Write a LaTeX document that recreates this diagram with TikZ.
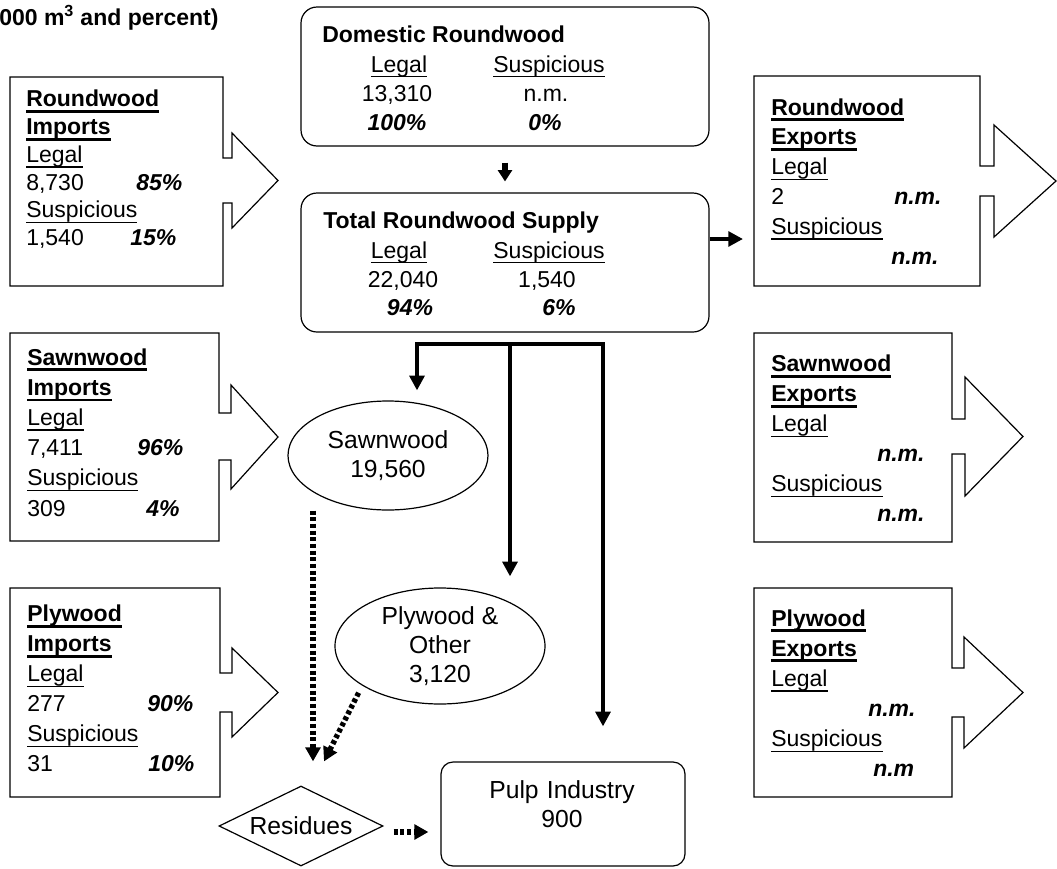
\documentclass[tikz,border=0pt]{standalone}
\usepackage{fontspec}
\setmainfont{Liberation Sans}
\usetikzlibrary{shapes.geometric,arrows.meta}
\newcommand{\myul}[1]{\setbox0\hbox{#1}\leavevmode\rlap{\rule[-4pt]{\wd0}{0.95pt}}\box0}
\newcommand{\myulb}[1]{\setbox0\hbox{\textbf{#1}}\leavevmode\rlap{\rule[-4.6pt]{\wd0}{2.1pt}}\box0}
\newcommand{\pct}[1]{\textbf{\textit{#1}}}
\newcommand{\tabrow}[3]{\makebox[#1][l]{#2}\pct{#3}}
\begin{document}
\begin{tikzpicture}[x=0.75pt,y=-0.75pt,
  boxline/.style={line width=0.9pt, line join=miter},
  btxt/.style={inner sep=0pt, anchor=base west, align=left, text width=150pt, font={\fontsize{17.25pt}{#1}\selectfont}},
  cell/.style={inner sep=0pt, anchor=base, font={\fontsize{17.25pt}{20pt}\selectfont}},
  ctitle/.style={inner sep=0pt, anchor=base west, font={\fontsize{17.25pt}{20pt}\selectfont\bfseries}},
  stxt/.style={inner sep=0pt, anchor=base, align=center, text width=160pt, font={\fontsize{18.5pt}{22pt}\selectfont}},
  rbox/.style={draw, line width=0.9pt, rounded corners=12pt, inner sep=0pt},
  oval/.style={draw, ellipse, line width=0.9pt, inner sep=0pt, align=center, font={\fontsize{18.5pt}{22pt}\selectfont}},
  flow/.style={line width=3.6pt, -{Triangle[width=11pt,length=11pt]}},
  resid/.style={line width=4pt, dash pattern=on 3pt off 2pt, -{Triangle[width=11pt,length=10.5pt]}}
]
\useasboundingbox (0,0) rectangle (1057,868);

% title (clipped)
\node[ctitle] (title) at (-1,25) {000 m\textsuperscript{3} and percent)};

% ---------- import boxes ----------
\draw[boxline] (10,77) -- (223,77) -- (223,158) -- (232,158) -- (232,133) -- (278,180.5) -- (232,228) -- (232,203) -- (223,203) -- (223,286) -- (10,286) -- cycle;
\node[btxt=20.85pt] (rwimp) at (26,106.7) {\myulb{Roundwood}\\\myulb{Imports}\\\myul{Legal}\\\tabrow{82.5pt}{8,730}{85\%}\\\myul{Suspicious}\\\tabrow{78pt}{1,540}{15\%}};

\draw[boxline] (10,333) -- (219,333) -- (219,413) -- (231,413) -- (231,385) -- (278,437) -- (231,489) -- (231,460) -- (219,460) -- (219,541) -- (10,541) -- cycle;
\node[btxt=22.65pt] (swimp) at (27,365) {\myulb{Sawnwood}\\\myulb{Imports}\\\myul{Legal}\\\tabrow{82.5pt}{7,411}{96\%}\\\myul{Suspicious}\\\tabrow{89.25pt}{309}{4\%}};

\draw[boxline] (10,588) -- (220,588) -- (220,673) -- (232,673) -- (232,648) -- (278,692.5) -- (232,737) -- (232,712) -- (220,712) -- (220,797) -- (10,797) -- cycle;
\node[btxt=22.5pt] (plimp) at (27,621.7) {\myulb{Plywood}\\\myulb{Imports}\\\myul{Legal}\\\tabrow{90pt}{277}{90\%}\\\myul{Suspicious}\\\tabrow{90.75pt}{31}{10\%}};

% ---------- export boxes ----------
\draw[boxline] (754,76) -- (980,76) -- (980,166) -- (994,166) -- (994,125) -- (1056,181) -- (994,237) -- (994,196) -- (980,196) -- (980,286) -- (754,286) -- cycle;
\node[btxt=22.35pt] (rwexp) at (771,115) {\myulb{Roundwood}\\\myulb{Exports}\\\myul{Legal}\\\tabrow{92.25pt}{2}{n.m.}\\\myul{Suspicious}\\\tabrow{90pt}{}{n.m.}};

\draw[boxline] (754,333) -- (952,333) -- (952,419) -- (965,419) -- (965,377) -- (1023,436.5) -- (965,496) -- (965,454) -- (952,454) -- (952,542) -- (754,542) -- cycle;
\node[btxt=22.5pt] (swexp) at (771,371.7) {\myulb{Sawnwood}\\\myulb{Exports}\\\myul{Legal}\\\tabrow{79.5pt}{}{n.m.}\\\myul{Suspicious}\\\tabrow{79.5pt}{}{n.m.}};

\draw[boxline] (754,588) -- (952,588) -- (952,668) -- (964,668) -- (964,637) -- (1023,692.5) -- (964,748) -- (964,717) -- (952,717) -- (952,797) -- (754,797) -- cycle;
\node[btxt=22.6pt] (plexp) at (771,626) {\myulb{Plywood}\\\myulb{Exports}\\\myul{Legal}\\\tabrow{72.75pt}{}{n.m.}\\\myul{Suspicious}\\\tabrow{76.5pt}{}{n.m}};

% ---------- central boxes ----------
\node[rbox, minimum width=306pt, minimum height=104.25pt] (dom) at (505,76.5) {};
\node[ctitle] (domt) at (322,42) {Domestic Roundwood};
\node[cell] (domL) at (399,72) {\myul{Legal}};
\node[cell] (domS) at (549,72) {\myul{Suspicious}};
\node[cell] (domLv) at (397,101.5) {13,310};
\node[cell] (domSv) at (546,101.5) {n.m.};
\node[cell] (domLp) at (397,130) {\pct{100\%}};
\node[cell] (domSp) at (545,130) {\pct{0\%}};

\node[rbox, minimum width=306pt, minimum height=104.25pt] (tot) at (505,262.5) {};
\node[ctitle] (tott) at (323,228) {Total Roundwood Supply};
\node[cell] (totL) at (399,258) {\myul{Legal}};
\node[cell] (totS) at (549,258) {\myul{Suspicious}};
\node[cell] (totLv) at (403,287) {22,040};
\node[cell] (totSv) at (547,287) {1,540};
\node[cell] (totLp) at (410,315) {\pct{94\%}};
\node[cell] (totSp) at (559,315) {\pct{6\%}};

\node[oval, minimum width=150pt, minimum height=81.75pt] (saw) at (388,455.5) {Sawnwood\\19,560};
\node[oval, minimum width=157.5pt, minimum height=87pt] (ply) at (440,646) {Plywood \&\\Other\\3,120};
\node[draw, diamond, aspect=2, line width=0.9pt, inner sep=0pt, minimum width=123pt, minimum height=60pt, font={\fontsize{18.5pt}{22pt}\selectfont}] (res) at (301,826) {Residues};
\node[rbox, rounded corners=9pt, minimum width=183pt, minimum height=78pt] (pulp) at (563,814) {};
\node[stxt] (pulpt) at (562,798) {Pulp Industry\\900};

% ---------- connectors ----------
\draw[line width=3.8pt, -{Triangle[width=10.5pt,length=8.5pt]}, shorten <=12pt, shorten >=8.25pt] (dom) -- (tot);
\coordinate (rwexpin) at (754,239);
\draw[flow, shorten >=8.25pt] (tot.east |- rwexpin) -- (rwexpin);

\coordinate (split) at (510,344);
\coordinate (bL) at (417,344);
\coordinate (bR) at (603,344);
\draw[line width=3.6pt, line join=miter, {Triangle[width=11pt,length=11pt]}-{Triangle[width=11pt,length=11pt]}, shorten <=7.5pt, shorten >=26.25pt] (bL |- saw.north) -- (bL) -- (bR) -- (bR |- pulp.north);
\draw[flow, shorten >=8.25pt] (split) -- (split |- ply.north);

\coordinate (rin1) at ([xshift=9pt,yshift=18pt]res.north);
\coordinate (rin2) at ([xshift=17.25pt,yshift=18pt]res.north);
\draw[resid] (saw.south -| rin1) -- (rin1);
\draw[resid, shorten <=6pt] (ply.207) -- (rin2);
\coordinate (rr) at ([yshift=-4.5pt]res.east);
\draw[resid, shorten <=7.5pt, shorten >=9pt] (rr) -- (rr -| pulp.west);
\end{tikzpicture}
\end{document}
